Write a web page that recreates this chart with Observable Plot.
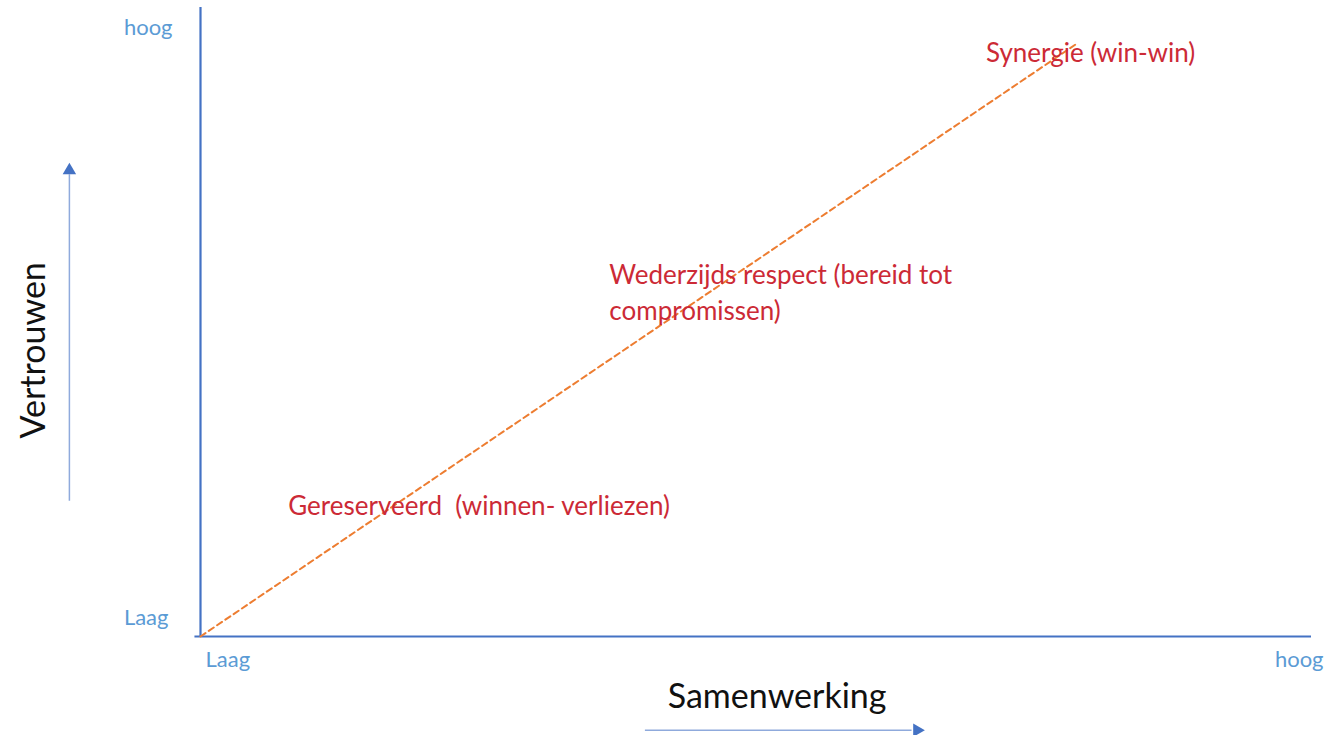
<!DOCTYPE html>
<html>
<head>
<meta charset="utf-8">
<script src="https://cdn.jsdelivr.net/npm/d3@7"></script>
<script src="https://cdn.jsdelivr.net/npm/@observablehq/plot@0.6"></script>
<style>
  html, body { margin: 0; padding: 0; background: #fff; }
  #chart svg { display: block; }
</style>
</head>
<body>
<div id="chart"></div>
<script>
// Levels on both axes
const levelLabels = ["Laag", "hoog"];
const levelValues = [0, 1];

// Diagonal (dashed) trend from low/low to the synergy corner
const trendX = [0, 0.79];
const trendY = [0, 0.944];

// Stage labels
const stageNames = [
  "Gereserveerd  (winnen- verliezen)",
  "Wederzijds respect (bereid tot\ncompromissen)",
  "Synergie (win-win)"
];
const stageX = [0.079, 0.368, 0.707];
const stageY = [0.211, 0.55, 0.932];

// Axis titles
const xTitle = "Samenwerking";
const yTitle = "Vertrouwen";

const stages = stageNames.map((name, i) => ({name, x: stageX[i], y: stageY[i]}));
const trend = trendX.map((x, i) => ({x, y: trendY[i]}));
const lowLevel = [{label: levelLabels[0], v: levelValues[0]}];
const highLevel = [{label: levelLabels[1], v: levelValues[1]}];

const blue = "#4472c4";
const lightBlue = "#5b9bd5";
const red = "#cc2a36";
const orange = "#ed7d31";
const font = "Lato, 'Open Sans', sans-serif";

const chart = Plot.plot({
  width: 1327,
  height: 735,
  marginLeft: 200,
  marginRight: 16,
  marginTop: 7,
  marginBottom: 99,
  x: {domain: [0, 1], axis: null},
  y: {domain: [0, 1], axis: null},
  style: {fontFamily: font, background: "#fff", overflow: "visible"},
  marks: [
    // axes lines
    Plot.ruleX([0], {y1: 0, y2: 1, stroke: blue, strokeWidth: 2.2}),
    Plot.ruleY([0], {x1: -0.005, x2: 1, stroke: blue, strokeWidth: 2.2}),
    // dashed diagonal
    Plot.line(trend, {x: "x", y: "y", stroke: orange, strokeWidth: 2, strokeDasharray: "6,4"}),
    // y level labels
    Plot.text(lowLevel, {x: 0, y: "v", text: "label", fill: lightBlue, fontSize: 22, textAnchor: "end", dx: -32, dy: -19}),
    Plot.text(highLevel, {x: 0, y: "v", text: "label", fill: lightBlue, fontSize: 22, textAnchor: "end", dx: -28, dy: 20}),
    // x level labels
    Plot.text(lowLevel, {x: "v", y: 0, text: "label", fill: lightBlue, fontSize: 22, textAnchor: "start", dx: 5, dy: 23}),
    Plot.text(highLevel, {x: "v", y: 0, text: "label", fill: lightBlue, fontSize: 22, textAnchor: "end", dx: 12, dy: 23}),
    // stage labels
    Plot.text(stages, {x: "x", y: "y", text: "name", fill: red, fontSize: 26, textAnchor: "start", lineHeight: 1.38}),
    // axis titles
    Plot.text([yTitle], {x: -0.15, y: 0.455, text: d => d, fontSize: 34, fill: "#111", rotate: -90}),
    Plot.text([xTitle], {x: 0.519, y: -0.097, text: d => d, fontSize: 34, fill: "#111"}),
    // arrow shafts
    Plot.link([{x1: -0.118, y1: 0.216, x2: -0.118, y2: 0.735}], {x1: "x1", y1: "y1", x2: "x2", y2: "y2", stroke: "#8faadc", strokeWidth: 1.5}),
    Plot.link([{x1: 0.4, y1: -0.149, x2: 0.64, y2: -0.149}], {x1: "x1", y1: "y1", x2: "x2", y2: "y2", stroke: "#8faadc", strokeWidth: 1.5}),
    // arrow heads
    Plot.dot([{x: -0.118, y: 0.741}], {x: "x", y: "y", symbol: "triangle", r: 5, fill: blue, stroke: null}),
    Plot.dot([{x: 0.645, y: -0.149}], {x: "x", y: "y", symbol: "triangle", r: 5, fill: blue, stroke: null, rotate: 90})
  ]
});
document.getElementById("chart").append(chart);
</script>
</body>
</html>
